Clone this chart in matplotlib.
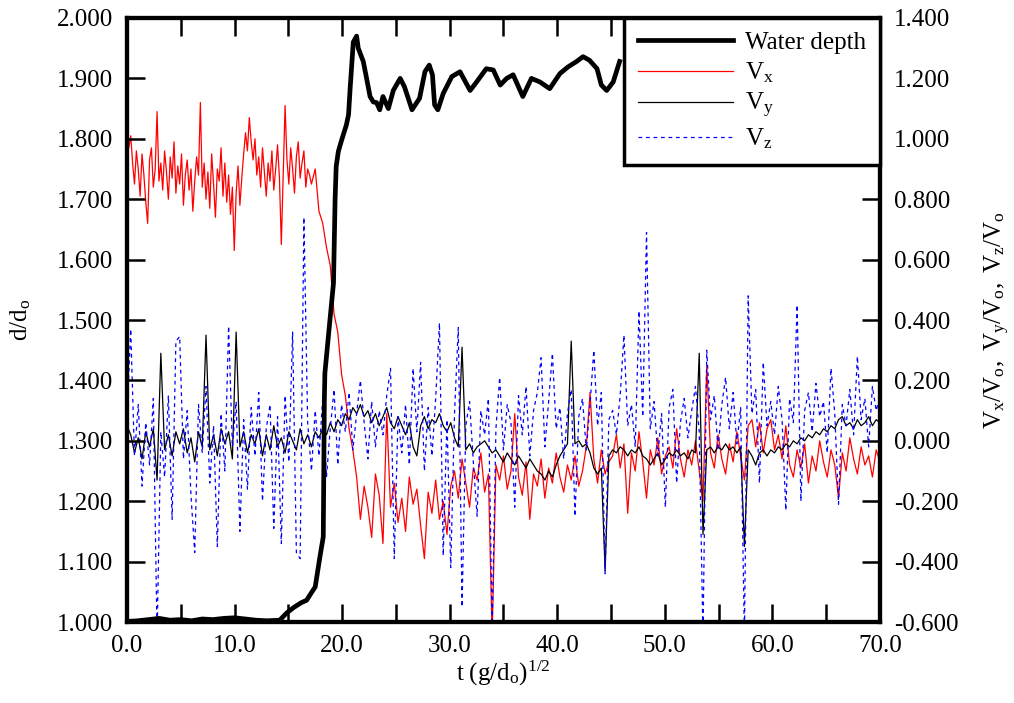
import numpy as np
import matplotlib
matplotlib.use("Agg")
import matplotlib.pyplot as plt
from matplotlib.ticker import MultipleLocator, FormatStrFormatter

plt.rcParams['font.family'] = ['Liberation Serif', 'DejaVu Serif']
plt.rcParams['mathtext.fontset'] = 'custom'
plt.rcParams['mathtext.rm'] = 'Liberation Serif'
plt.rcParams['mathtext.it'] = 'Liberation Serif:italic'

# water depth d/do (left axis)
t_depth = [0, 1, 2, 3, 4, 5, 6, 7, 8, 9, 10, 11, 12, 13, 14.2, 14.85, 15.5, 16.2,
           16.7, 17.2, 17.5, 17.94, 18.25, 18.35, 18.4, 18.87, 19.2, 19.35, 19.45,
           19.65, 19.96, 20.4, 20.6, 20.75, 21.04, 21.35, 21.5, 21.97, 22.3, 22.6,
           22.9, 23.2, 23.5, 23.8, 24.3, 24.76, 25.4, 25.8, 26.5, 27.2, 27.7, 28.1,
           28.4, 28.6, 28.9, 29.4, 30.2, 30.96, 31.9, 32.5, 33.4, 34.05, 34.7, 35.3,
           35.9, 36.8, 37.6, 38.4, 39.3, 40.25, 41.0, 41.8, 42.4, 43.0, 43.7, 44.1,
           44.6, 45.2, 45.8]
depth = [1.001, 1.002, 1.004, 1.006, 1.003, 1.004, 1.002, 1.005, 1.004, 1.006, 1.007,
         1.005, 1.003, 1.002, 1.003, 1.015, 1.024, 1.032, 1.036, 1.050, 1.058, 1.108,
         1.141, 1.368, 1.412, 1.500, 1.561, 1.700, 1.754, 1.779, 1.798, 1.823, 1.840,
         1.884, 1.960, 1.970, 1.950, 1.928, 1.898, 1.870, 1.861, 1.860, 1.848, 1.870,
         1.850, 1.880, 1.900, 1.886, 1.848, 1.867, 1.911, 1.922, 1.906, 1.856, 1.848,
         1.875, 1.903, 1.911, 1.880, 1.894, 1.916, 1.914, 1.889, 1.900, 1.906, 1.870,
         1.900, 1.894, 1.883, 1.908, 1.919, 1.928, 1.936, 1.930, 1.916, 1.889, 1.880,
         1.894, 1.928]

# velocities V/Vo (right axis), sampled every 0.35
t_vel = np.arange(201) * 0.35

# Vx before the bore arrives, read at a finer step of 0.175
t_vx_early = np.arange(98) * 0.175
vx_early = [1.00, 0.97, 1.01, 0.92, 0.85, 0.96, 0.90, 0.81, 0.95, 0.88, 0.79, 0.72, 0.93,
            0.97, 0.84, 0.90, 1.09, 0.86, 0.92, 0.83, 0.96, 0.89, 0.80, 0.94, 0.87, 0.99,
            0.82, 0.91, 0.85, 0.95, 0.78, 0.88, 0.93, 0.83, 0.90, 0.76, 0.86, 0.94, 0.88,
            1.12, 0.84, 0.92, 0.80, 0.89, 0.77, 0.95, 0.85, 0.74, 0.90, 0.86, 0.97, 0.81,
            0.92, 0.79, 0.88, 0.75, 0.84, 0.63, 0.82, 0.91, 0.78, 0.87, 0.95, 1.02, 0.96,
            1.07, 0.99, 0.93, 1.00, 0.88, 0.94, 0.84, 0.97, 0.89, 0.81, 0.92, 0.86, 0.96,
            0.83, 0.90, 0.98, 0.87, 0.65, 0.88, 1.11, 0.93, 0.85, 0.97, 0.90, 0.82, 0.94,
            0.99, 0.87, 0.92, 0.96, 0.84, 0.90, 0.88]

vx = [1.00, 0.98, 0.86, 0.95, 0.80, 0.72, 0.93, 0.84, 1.09, 0.88, 0.96, 0.82, 0.91, 0.78,
      0.99, 0.87, 0.93, 0.76, 0.90, 1.12, 0.85, 0.80, 0.95, 0.74, 0.88, 0.97, 0.79, 0.92,
      0.75, 0.63, 0.86, 0.81, 1.02, 1.07, 0.93, 0.98, 0.84, 0.91, 0.78, 0.95, 0.87, 0.65,
      1.11, 0.89, 0.96, 0.82, 0.94, 1.00, 0.88, 0.85, 0.90, 0.76, 0.72, 0.64, 0.58, 0.42,
      0.36, 0.22, 0.15, 0.04, -0.03, -0.12, -0.26, -0.15, -0.22, -0.32, -0.11, -0.18,
      -0.34, 0.09, -0.22, -0.14, -0.27, -0.19, -0.30, -0.12, -0.21, -0.16, -0.28, -0.39,
      -0.17, -0.24, -0.13, -0.26, -0.20, -0.31, -0.15, -0.10, -0.19, -0.06, -0.14, -0.22,
      -0.09, -0.13, -0.04, -0.17, -0.11, -0.65, -0.08, -0.13, -0.05, -0.16, -0.10, 0.09,
      -0.12, -0.18, -0.07, -0.26, -0.11, -0.15, -0.06, -0.19, -0.09, -0.14, -0.04, -0.12,
      -0.17, -0.08, -0.13, -0.05, -0.15, -0.10, -0.02, 0.16, -0.06, -0.14, -0.03, -0.11,
      -0.07, -0.05, 0.02, -0.09, -0.01, -0.24, -0.04, -0.10, 0.03, -0.07, -0.19, -0.03,
      -0.08, 0.01, -0.11, -0.05, -0.02, -0.09, 0.04, -0.06, -0.12, -0.03, -0.08, 0.00,
      -0.10, -0.20, 0.25, -0.04, -0.09, 0.02, -0.06, -0.11, -0.01, -0.07, 0.03, -0.05,
      -0.13, 0.05, 0.07, -0.02, 0.06, -0.04, 0.04, 0.07, -0.03, 0.02, -0.06, 0.05, -0.08,
      -0.12, -0.03, -0.09, -0.01, -0.14, -0.05, -0.10, 0.00, -0.07, -0.12, -0.03, -0.08,
      -0.19, -0.04, -0.10, 0.01, -0.06, -0.11, -0.02, -0.08, -0.05, -0.12, -0.03, -0.07]

vy = [0.05, 0.02, -0.04, 0.01, -0.06, 0.03, -0.02, 0.04, -0.13, 0.29, -0.03, 0.02, -0.05,
      0.03, -0.01, 0.04, -0.04, 0.01, -0.07, 0.03, -0.02, 0.35, -0.03, 0.02, -0.05, 0.04,
      -0.01, 0.03, -0.06, 0.36, -0.02, 0.03, -0.04, 0.02, -0.01, 0.04, -0.05, 0.02, -0.03,
      0.05, -0.02, 0.01, -0.04, 0.03, 0.00, -0.03, 0.04, -0.01, 0.02, -0.02, 0.03, 0.01,
      0.04, 0.02, 0.06, 0.03, 0.07, 0.05, 0.09, 0.07, 0.11, 0.09, 0.12, 0.08, 0.10, 0.06,
      0.09, 0.05, 0.08, 0.11, 0.06, 0.04, 0.08, 0.05, 0.02, 0.06, -0.02, -0.05, 0.05, 0.08,
      0.04, 0.07, 0.06, 0.09, 0.05, 0.03, 0.06, 0.01, -0.02, 0.31, -0.03, -0.01, -0.04,
      -0.02, -0.01, 0.00, -0.02, -0.04, -0.03, -0.05, -0.07, -0.04, -0.06, -0.08, -0.05,
      -0.07, -0.09, -0.06, -0.08, -0.10, -0.11, -0.13, -0.10, -0.12, -0.08, -0.05, -0.03,
      -0.01, 0.33, -0.01, 0.00, -0.02, -0.01, -0.04, -0.09, -0.11, -0.09, -0.43, -0.05,
      -0.03, -0.04, -0.02, -0.03, -0.05, -0.03, -0.04, -0.02, -0.05, -0.06, -0.08, -0.06,
      -0.04, -0.08, -0.06, -0.04, -0.05, -0.03, -0.05, -0.04, -0.06, -0.03, -0.04, 0.29,
      -0.31, -0.03, -0.02, -0.04, -0.02, -0.03, -0.01, -0.03, -0.02, -0.04, -0.02, -0.35,
      -0.03, -0.05, -0.08, -0.04, -0.03, -0.05, -0.03, -0.04, -0.02, -0.03, -0.01, -0.02,
      0.00, -0.01, 0.01, 0.00, 0.02, 0.01, 0.03, 0.02, 0.04, 0.03, 0.05, 0.04, 0.07, 0.08,
      0.05, 0.06, 0.04, 0.07, 0.05, 0.06, 0.08, 0.05, 0.07, 0.06]

vz = [0.08, 0.37, -0.05, 0.12, -0.15, 0.06, -0.08, 0.14, -0.65, 0.03, -0.12, 0.15, -0.26,
      0.33, 0.345, -0.06, 0.10, -0.18, -0.37, 0.12, -0.04, 0.18, -0.14, 0.05, -0.35, 0.09,
      -0.10, 0.38, -0.02, 0.13, -0.30, 0.07, -0.16, 0.11, -0.05, 0.16, -0.20, 0.04, 0.12,
      -0.29, 0.08, -0.34, 0.15, -0.07, 0.36, -0.37, -0.39, 0.74, 0.06, -0.10, 0.10, -0.05,
      0.14, -0.12, 0.04, 0.17, -0.08, 0.12, 0.03, 0.16, -0.03, 0.09, 0.20, 0.06, -0.06,
      0.13, -0.02, 0.10, 0.02, 0.15, 0.24, -0.39, 0.08, -0.04, 0.12, -0.08, 0.24, 0.03,
      0.26, -0.10, 0.11, -0.05, 0.14, 0.39, -0.38, 0.07, -0.42, 0.09, 0.375, -0.55, 0.05,
      0.13, -0.07, -0.25, 0.10, 0.02, 0.14, -0.62, 0.04, 0.21, -0.03, 0.12, 0.06, -0.22,
      0.15, 0.02, 0.18, -0.05, 0.10, 0.16, 0.275, -0.02, 0.13, 0.29, 0.04, 0.11, -0.06,
      0.09, 0.17, -0.25, 0.08, 0.14, -0.03, 0.12, 0.30, 0.05, 0.16, -0.44, 0.07, 0.10,
      0.02, 0.15, 0.35, 0.05, 0.12, -0.02, 0.43, 0.08, 0.69, 0.04, 0.13, -0.05, 0.09, -0.22,
      0.11, 0.17, -0.14, 0.06, 0.14, 0.01, 0.10, 0.18, 0.03, -0.65, 0.30, 0.07, 0.15, -0.03,
      0.12, 0.21, 0.04, 0.16, -0.01, 0.11, -0.65, 0.48, 0.09, 0.17, -0.14, 0.26, 0.05,
      0.13, 0.02, 0.18, 0.07, -0.23, 0.14, 0.06, 0.45, -0.20, 0.10, 0.16, 0.03, 0.19, 0.08,
      0.13, -0.04, 0.24, 0.09, -0.21, 0.12, 0.05, 0.17, 0.02, 0.28, 0.07, 0.14, -0.02,
      0.18, 0.10, 0.15]

# finer early Vx joined to the rest of the record from t = 17.15
t_vx = np.concatenate([t_vx_early, t_vel[49:]])
vx_all = vx_early + vx[49:]

fig = plt.figure(figsize=(10.14, 7.03), dpi=100)
ax = fig.add_axes([0.1252, 0.1152, 0.7426, 0.8592])
ax2 = ax.twinx()

l_vx, = ax2.plot(t_vx, vx_all, color='#ff0000', lw=0.9)
l_vy, = ax2.plot(t_vel, vy, color='black', lw=0.9)
l_vz, = ax2.plot(t_vel, vz, color='#0000ff', lw=0.9, dashes=(3, 3))
l_d, = ax.plot(t_depth, depth, color='black', lw=3.4)

# depth axis drawn above the velocity axis
ax.set_zorder(ax2.get_zorder() + 1)
ax.patch.set_visible(False)

ax.set_xlim(0, 70)
ax.set_ylim(1.0, 2.0)
ax2.set_ylim(-0.6, 1.4)

ax.xaxis.set_major_locator(MultipleLocator(10))
ax.xaxis.set_minor_locator(MultipleLocator(5))
ax.xaxis.set_major_formatter(FormatStrFormatter('%.1f'))
ax.yaxis.set_major_locator(MultipleLocator(0.1))
ax.yaxis.set_major_formatter(FormatStrFormatter('%.3f'))
ax2.yaxis.set_major_locator(MultipleLocator(0.2))
ax2.yaxis.set_major_formatter(FormatStrFormatter('%.3f'))

fs = 18
ax.tick_params(axis='x', which='both', direction='in', top=True, length=13, width=1.8,
               labelsize=fs, pad=9)
ax.tick_params(axis='y', which='both', direction='in', length=13, width=1.8,
               labelsize=fs, pad=10)
ax2.tick_params(axis='y', direction='in', length=13, width=1.8, labelsize=fs, pad=10)

for a in (ax, ax2):
    for s in a.spines.values():
        s.set_linewidth(3)

ax.set_xlabel(r'$\mathrm{t\ (g/d_o)^{1/2}}$', fontsize=fs, labelpad=2)
ax.set_ylabel(r'$\mathrm{d/d_o}$', fontsize=fs, labelpad=17)
ax2.set_ylabel(r'$\mathrm{V_x/V_o,\ V_y/V_o,\ V_z/V_o}$', fontsize=fs, labelpad=18)

leg = ax.legend([l_d, l_vx, l_vy, l_vz],
                ['Water depth', r'$\mathrm{V_x}$', r'$\mathrm{V_y}$', r'$\mathrm{V_z}$'],
                loc='upper right', fontsize=fs, frameon=True, fancybox=False,
                framealpha=1, edgecolor='black', borderaxespad=0, handlelength=3.8,
                handletextpad=0.5, labelspacing=0.25, borderpad=0.55)
leg.get_frame().set_linewidth(2.5)

fig.savefig('out.png', dpi=100)
